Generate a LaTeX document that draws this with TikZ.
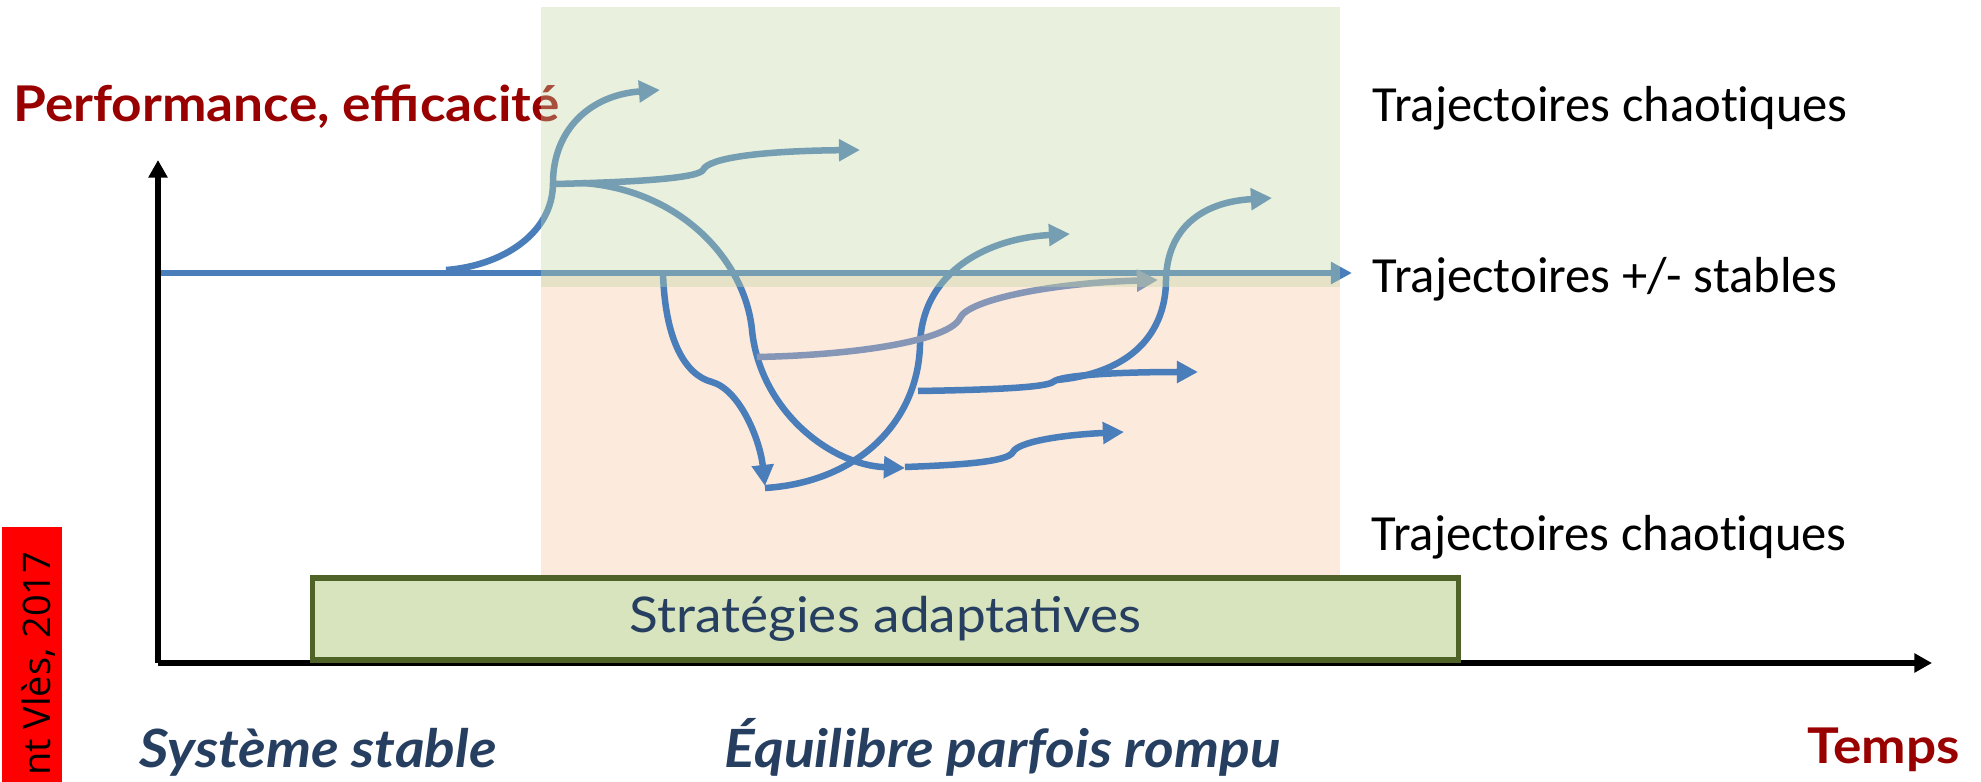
\documentclass[tikz,border=0pt]{standalone}
\usepackage{fontspec}
\setmainfont{Lato}
\newfontfamily\avenirfont[FakeStretch=1.08]{Lato}
\newfontfamily\calibfont[Ligatures=NoCommon]{Carlito}
\newfontfamily\creditfont{Open Sans}
\usetikzlibrary{arrows.meta,positioning}
\definecolor{trajblue}{RGB}{74,126,187}
\definecolor{trajgray}{RGB}{133,150,182}
\definecolor{perfred}{RGB}{153,0,0}
\definecolor{phasenavy}{RGB}{38,62,96}
\definecolor{zonegreen}{RGB}{194,214,164}
\definecolor{zonepeach}{RGB}{252,234,220}
\definecolor{stratfill}{RGB}{215,228,189}
\definecolor{stratline}{RGB}{79,98,40}

\begin{document}
\begin{tikzpicture}[x=0.01cm, y=-0.01cm,
    traj/.style={draw=trajblue, line width=1.85pt, -{Triangle[length=6pt,width=6pt]}},
    timeaxis/.style={draw=black, line width=1.8pt, -{Triangle[length=5pt,width=5.2pt]}},
    sidelabel/.style={font=\calibfont\fontsize{14.4}{16}\selectfont, anchor=base west, inner sep=0pt},
    phaselabel/.style={font=\avenirfont\bfseries\itshape\fontsize{15}{17}\selectfont, text=phasenavy, anchor=base west, inner sep=0pt},
    axislabel/.style={font=\avenirfont\bfseries\fontsize{14}{16}\selectfont, text=perfred, anchor=base west, inner sep=0pt}]
    \useasboundingbox (0,0) rectangle (1981,782);
    % zone under the stable line
    \fill[zonepeach] (541,270) rectangle (1340,575);
    \node[axislabel] (perf) at (13,122) {Performance, efficacité};
    % stable trajectory
    \coordinate (stable0) at (158,273);
    \coordinate (stable1) at (1352,273);
    \draw[traj] (stable0) -- (stable1);
    % trajectories
    \draw[traj] (446,270) .. controls (500,266) and (553,235) .. (553,183)
      .. controls (553,130) and (590,95) .. (660,90);
    \draw[traj] (555,184) .. controls (640,182) and (698,178) .. (703,170)
      .. controls (708,158) and (760,151) .. (860,150);
    \draw[traj] (583,183) .. controls (680,190) and (745,260) .. (752,330)
      .. controls (760,410) and (830,465) .. (905,468);
    \draw[traj] (905,467) .. controls (960,465) and (1008,462) .. (1013,452)
      .. controls (1018,442) and (1060,435) .. (1124,432);
    \draw[traj] (663,273) .. controls (665,340) and (685,375) .. (712,382)
      .. controls (740,390) and (760,440) .. (765,486);
    \draw[traj] (765,488) .. controls (860,482) and (918,420) .. (920,345)
      .. controls (922,270) and (990,238) .. (1070,234);
    \draw[traj, draw=trajgray] (757,357) .. controls (860,355) and (950,340) .. (960,318)
      .. controls (968,300) and (1050,283) .. (1158,280);
    \draw[traj] (918,391) .. controls (980,390) and (1045,388) .. (1053,382)
      .. controls (1060,375) and (1120,372) .. (1198,372);
    \draw[traj] (1057,380) .. controls (1140,372) and (1166,325) .. (1166,280)
      .. controls (1167,230) and (1200,202) .. (1272,198);
    % zone above the stable line
    \fill[zonegreen, fill opacity=0.37] (541,7) rectangle (1340,287);
    % axes
    \coordinate (origin) at (158,663);
    \coordinate (ytop) at (158,160);
    \coordinate (xend) at (1932,663);
    \draw[timeaxis] (origin) -- (ytop);
    \draw[timeaxis] (origin) -- (xend);
    \node[draw=stratline, fill=stratfill, line width=1.5pt, minimum width=11.45cm, minimum height=0.82cm,
      text=phasenavy, font=\avenirfont\fontsize{14}{16}\selectfont] (strat) at (885.5,619) {Stratégies adaptatives};
    % labels
    \node[sidelabel] (chaos1) at (1372,122) {Trajectoires chaotiques};
    \node[sidelabel] (stab) at (1372,293) {Trajectoires +/- stables};
    \node[sidelabel] (chaos2) at (1371,550) {Trajectoires chaotiques};
    \node[phaselabel] (sys) at (139,767) {Système stable};
    \node[phaselabel] (equi) at (724,767) {Équilibre parfois rompu};
    \node[axislabel] (temps) at (1807,763) {Temps};
    % credit strip
    \fill[red] (2,527) rectangle (62,782);
    \node[rotate=90, anchor=base east, inner sep=0pt, font=\creditfont\fontsize{10.8}{13}\selectfont] (credit) at (51,551) {nt Vlès, 2017};
  \end{tikzpicture}
\end{document}
